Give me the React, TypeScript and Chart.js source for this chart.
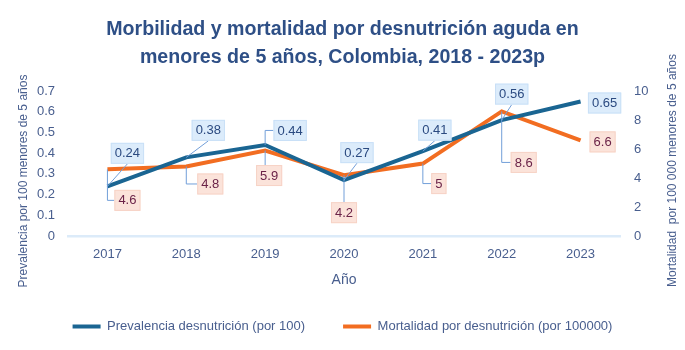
import React, { useEffect, useRef } from 'react';
import { Chart, registerables } from 'chart.js';

Chart.register(...registerables);

// ---------- data ----------
const years = ['2017', '2018', '2019', '2020', '2021', '2022', '2023'];
const prevalencia = [0.24, 0.38, 0.44, 0.27, 0.41, 0.56, 0.65];
const mortalidad = [4.6, 4.8, 5.9, 4.2, 5, 8.6, 6.6];
const prevalenciaLabels = ['0.24', '0.38', '0.44', '0.27', '0.41', '0.56', '0.65'];
const mortalidadLabels = ['4.6', '4.8', '5.9', '4.2', '5', '8.6', '6.6'];
const seriesNames = ['Prevalencia desnutrición (por 100)', 'Mortalidad por desnutrición (por 100000)'];
const titleLines = ['Morbilidad y mortalidad por desnutrición aguda en', 'menores de 5 años, Colombia, 2018 - 2023p'];
const xTitle = 'Año';
const leftTitle = 'Prevalencia por 100 menores de 5 años';
const rightTitle = 'Mortalidad  por 100 000 menores de 5 años';

// ---------- style ----------
const FONT = '"Liberation Sans", Arial, sans-serif';
const BLUE = '#1a6592';
const ORANGE = '#f26d21';
const TEXT = '#485e8e';
const TITLE = '#2e4f86';

// callout label offsets (px from the point to the box centre) and leader style
const prevOffsets: [number, number][] = [[20, -33], [22, -27], [25, -14.5], [13, -27.5], [12, -21], [10, -26], [24, 1.5]];
const mortOffsets: [number, number][] = [[20, 31], [24, 17.5], [4, 25], [0, 37.5], [16, 20], [22, 51], [22, 1.5]];
const prevLeaders = ['diag', 'diag', 'elbow', 'diag', 'diag', 'diag', 'none'];
const mortLeaders = ['elbow', 'elbow', 'vert', 'vert', 'elbow', 'elbow', 'none'];

const calloutPlugin = {
  id: 'callouts',
  afterDatasetsDraw(chart: any) {
    const ctx: CanvasRenderingContext2D = chart.ctx;
    const groups = [
      { ds: 0, texts: prevalenciaLabels, offsets: prevOffsets, kinds: prevLeaders, fill: '#dcecfb', stroke: '#c9e0f7', color: '#2b4a80' },
      { ds: 1, texts: mortalidadLabels, offsets: mortOffsets, kinds: mortLeaders, fill: '#fbe3da', stroke: '#f7d3c6', color: '#6b2348' },
    ];
    ctx.save();
    ctx.font = `13px ${FONT}`;
    const boxes: any[] = [];
    groups.forEach((g) => {
      const meta = chart.getDatasetMeta(g.ds);
      meta.data.forEach((pt: any, i: number) => {
        const px = pt.x;
        const py = pt.y;
        const cx = px + g.offsets[i][0];
        const cy = py + g.offsets[i][1];
        const w = ctx.measureText(g.texts[i]).width + 8;
        const h = 21;
        boxes.push({ g, i, cx, cy, w, h, px, py });
      });
    });
    // leaders
    ctx.strokeStyle = '#729fd9';
    ctx.lineWidth = 1;
    boxes.forEach((b) => {
      const kind = b.g.kinds[b.i];
      const L = b.cx - b.w / 2;
      const T = b.cy - b.h / 2;
      const B = b.cy + b.h / 2;
      ctx.beginPath();
      if (kind === 'diag') {
        const ey = b.py > b.cy ? B : T;
        ctx.moveTo(b.px, b.py);
        ctx.lineTo(b.cx, ey);
      } else if (kind === 'elbow') {
        ctx.moveTo(b.px, b.py);
        ctx.lineTo(b.px, b.cy);
        ctx.lineTo(L, b.cy);
      } else if (kind === 'vert') {
        const ey = b.py > b.cy ? B : T;
        ctx.moveTo(b.px, b.py);
        ctx.lineTo(b.px, ey);
      }
      ctx.stroke();
    });
    // boxes
    ctx.textAlign = 'center';
    ctx.textBaseline = 'middle';
    boxes.forEach((b) => {
      const L = b.cx - b.w / 2;
      const T = b.cy - b.h / 2;
      ctx.fillStyle = b.g.fill;
      ctx.fillRect(L, T, b.w, b.h);
      ctx.strokeStyle = b.g.stroke;
      ctx.lineWidth = 1;
      ctx.strokeRect(L + 0.5, T + 0.5, b.w - 1, b.h - 1);
      ctx.fillStyle = b.g.color;
      ctx.fillText(b.g.texts[b.i], b.cx, b.cy + 0.5);
    });
    ctx.restore();
  },
  afterDraw(chart: any) {
    const ctx: CanvasRenderingContext2D = chart.ctx;
    ctx.save();
    ctx.font = `12px ${FONT}`;
    ctx.fillStyle = TEXT;
    ctx.textAlign = 'center';
    ctx.textBaseline = 'middle';
    ctx.translate(24, 181);
    ctx.rotate(-Math.PI / 2);
    ctx.fillText(leftTitle, 0, 0);
    ctx.restore();
    ctx.save();
    ctx.font = `12px ${FONT}`;
    ctx.fillStyle = TEXT;
    ctx.textAlign = 'center';
    ctx.textBaseline = 'middle';
    ctx.translate(673, 170.5);
    ctx.rotate(-Math.PI / 2);
    ctx.fillText(rightTitle, 0, 0);
    ctx.restore();
  },
};

export default function App() {
  const ref = useRef<HTMLCanvasElement | null>(null);
  useEffect(() => {
    document.body.style.margin = '0';
    const canvas = ref.current;
    if (!canvas) return;
    const chart = new Chart(canvas, {
      type: 'line',
      data: {
        labels: years,
        datasets: [
          {
            label: seriesNames[0],
            data: prevalencia,
            yAxisID: 'y',
            borderColor: BLUE,
            backgroundColor: BLUE,
            borderWidth: 4,
            pointRadius: 0,
            tension: 0,
          },
          {
            label: seriesNames[1],
            data: mortalidad,
            yAxisID: 'y1',
            borderColor: ORANGE,
            backgroundColor: ORANGE,
            borderWidth: 4,
            pointRadius: 0,
            tension: 0,
          },
        ],
      },
      options: {
        animation: false,
        responsive: false,
        devicePixelRatio: 1,
        layout: { padding: { left: 0, right: 0, top: 0, bottom: 7 } },
        plugins: {
          tooltip: { enabled: false },
          title: {
            display: true,
            text: titleLines,
            color: TITLE,
            font: { family: FONT, size: 19.6, weight: 'bold', lineHeight: 1.445 },
            padding: { top: 15, bottom: 19.5 },
          },
          legend: {
            position: 'bottom',
            labels: {
              boxWidth: 28,
              boxHeight: 4,
              padding: 38,
              color: TEXT,
              font: { family: FONT, size: 13 },
              generateLabels: (c: any) =>
                Chart.defaults.plugins.legend.labels.generateLabels(c).map((l: any) => ({ ...l, lineWidth: 0 })),
            },
          },
        },
        scales: {
          x: {
            offset: true,
            grid: { display: false, drawTicks: false },
            border: { display: true, color: '#dcebf9', width: 2.5 },
            ticks: { color: TEXT, font: { family: FONT, size: 13 }, padding: 11 },
            title: {
              display: true,
              text: xTitle,
              color: TEXT,
              font: { family: FONT, size: 14 },
              padding: { top: 0, bottom: -7 },
            },
            afterFit: (s: any) => {
              s.height = 46;
            },
          },
          y: {
            position: 'left',
            min: 0,
            max: 0.7,
            ticks: { stepSize: 0.1, color: TEXT, font: { family: FONT, size: 13 }, padding: 13 },
            grid: { display: false, drawTicks: false },
            border: { display: false },
            afterFit: (s: any) => {
              s.width = 68;
            },
          },
          y1: {
            position: 'right',
            min: 0,
            max: 10,
            ticks: { stepSize: 2, color: TEXT, font: { family: FONT, size: 13 }, padding: 14 },
            grid: { display: false, drawTicks: false },
            border: { display: false },
            afterFit: (s: any) => {
              s.width = 65;
            },
          },
        },
      },
      plugins: [calloutPlugin],
    } as any);
    return () => chart.destroy();
  }, []);
  return (
    <div style={{ position: 'absolute', left: 0, top: 0, width: 685, height: 350, background: '#fff' }}>
      <canvas ref={ref} width={685} height={350} style={{ display: 'block', width: 685, height: 350 }} />
    </div>
  );
}
